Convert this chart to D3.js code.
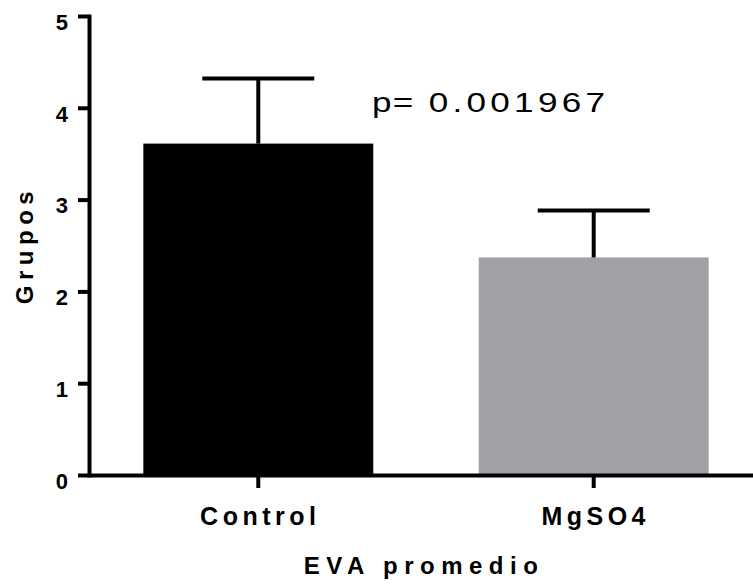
<!DOCTYPE html>
<html lang="en">

<head>
  <meta charset="UTF-8">
  <title>EVA promedio</title>
  <script src="https://d3js.org/d3.v7.min.js"></script>
  <style>
    body {
      margin: 0;
      background: white;
      font-family: "Liberation Sans", Arial, sans-serif;
    }

    svg {
      display: block;
    }

    .axis text {
      font-family: "Liberation Sans", Arial, sans-serif;
      font-weight: bold;
      fill: black;
    }

    .axis path,
    .axis line {
      stroke: black;
      stroke-width: 4;
    }
  </style>
</head>

<body>
  <svg width="753" height="585"></svg>

  <script>
    // values
    const groups = ["Control", "MgSO4"];
    const means = [3.61, 2.37];
    const sems = [0.71, 0.51];
    const yTicks = [0, 1, 2, 3, 4, 5];
    const barColors = ["#000000", "#a1a0a5"];
    const pLabel = ["p=", " 0.001967"];

    const svg = d3.select("svg");

    const y = d3.scaleLinear().domain([0, 5]).range([475, 16]);
    const x = d3.scaleBand().domain(groups).range([89, 763])
      .paddingInner(0.3145).paddingOuter(0.162);

    const rows = groups.map((g, i) => ({ name: g, mean: means[i], sem: sems[i], color: barColors[i] }));

    // bars
    svg.append("g").selectAll("rect")
      .data(rows)
      .enter().append("rect")
      .attr("x", d => x(d.name))
      .attr("y", d => y(d.mean))
      .attr("width", x.bandwidth())
      .attr("height", d => y(0) - y(d.mean))
      .attr("fill", d => d.color);

    // error bars (upper only)
    const capHalf = 56;
    const err = svg.append("g").attr("stroke", "black").attr("stroke-width", 4);
    rows.forEach(d => {
      const cx = x(d.name) + x.bandwidth() / 2;
      err.append("line")
        .attr("x1", cx).attr("x2", cx)
        .attr("y1", y(d.mean)).attr("y2", y(d.mean + d.sem));
      err.append("line")
        .attr("x1", cx - capHalf).attr("x2", cx + capHalf)
        .attr("y1", y(d.mean + d.sem)).attr("y2", y(d.mean + d.sem));
    });

    // y axis
    const yAxis = svg.append("g")
      .attr("class", "axis")
      .attr("transform", "translate(89,0)")
      .call(d3.axisLeft(y).tickValues(yTicks).tickSize(11).tickSizeOuter(0).tickPadding(10).tickFormat(d3.format("d")));
    yAxis.selectAll("text")
      .attr("font-size", "22px")
      .attr("dy", "0.6em");
    yAxis.select(".domain").attr("stroke-linecap", "square");

    // x axis
    const xAxis = svg.append("g")
      .attr("class", "axis")
      .attr("transform", `translate(0,${y(0)})`)
      .call(d3.axisBottom(x).tickSize(13).tickSizeOuter(0));
    xAxis.selectAll("text")
      .attr("font-size", "25px")
      .attr("letter-spacing", "4.5px")
      .attr("y", 50)
      .attr("dy", 0)
      .attr("dx", "2px");

    // axis titles
    svg.append("text")
      .attr("x", 424)
      .attr("y", 574)
      .attr("text-anchor", "middle")
      .attr("font-size", "24px")
      .attr("font-weight", "bold")
      .attr("letter-spacing", "6.5px")
      .text("EVA promedio");

    svg.append("text")
      .attr("transform", "translate(33,245) rotate(-90)")
      .attr("text-anchor", "middle")
      .attr("font-size", "24px")
      .attr("font-weight", "bold")
      .attr("letter-spacing", "5.5px")
      .text("Grupos");

    // p value annotation
    const pText = svg.append("text")
      .attr("transform", "translate(372,112) scale(1.3,1)")
      .attr("font-size", "27px");
    pText.append("tspan").attr("letter-spacing", "1px").text(pLabel[0]);
    pText.append("tspan").attr("letter-spacing", "3.3px").text(pLabel[1]);
  </script>
</body>

</html>
